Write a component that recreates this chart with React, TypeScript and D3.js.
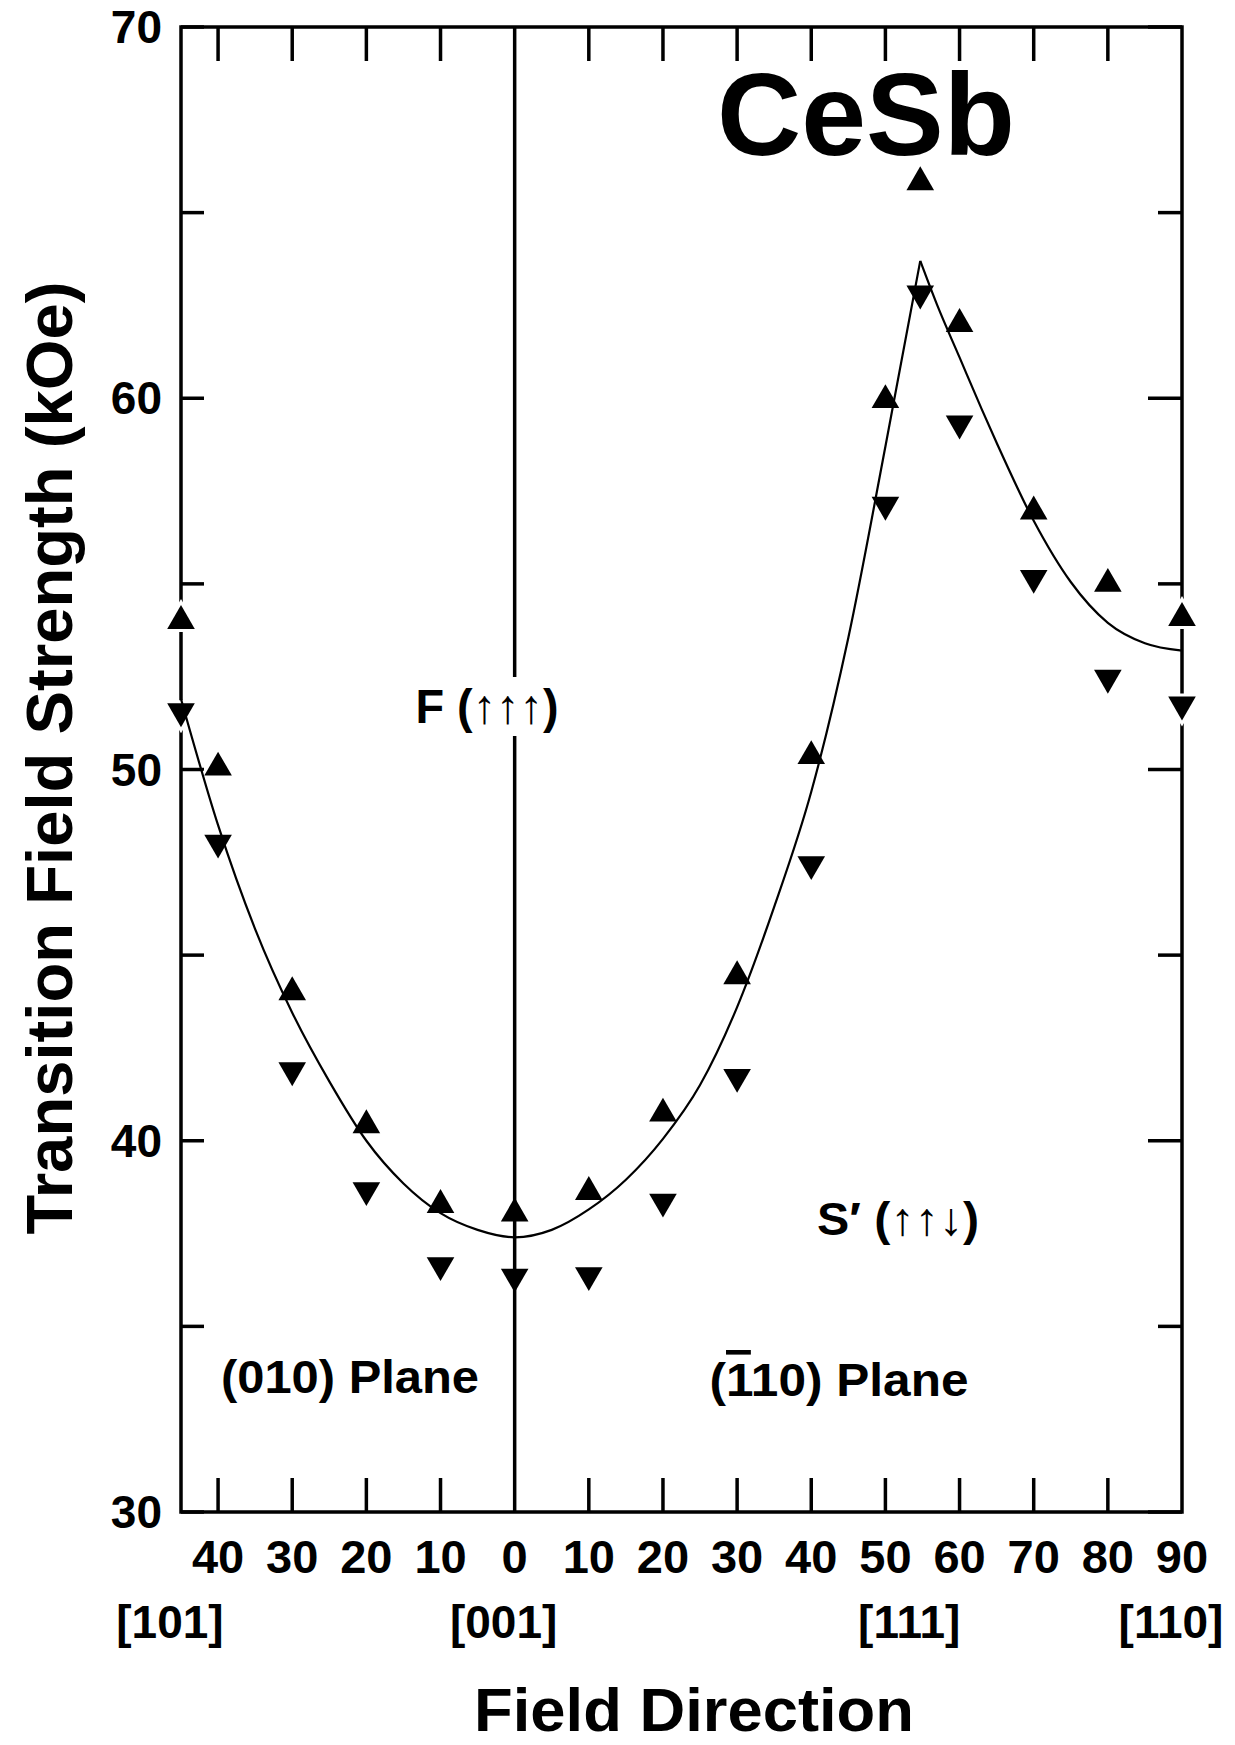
import React from 'react';
import * as d3 from 'd3';

// ---- data ----
const yTicksMajor = [30, 40, 50, 60, 70];
const yTicksMinor = [35, 45, 55, 65];
const xTickAngles = [-40, -30, -20, -10, 10, 20, 30, 40, 50, 60, 70, 80];
const xTickLabelAngles = [-40, -30, -20, -10, 0, 10, 20, 30, 40, 50, 60, 70, 80, 90];
const xTickLabels = ['40', '30', '20', '10', '0', '10', '20', '30', '40', '50', '60', '70', '80', '90'];
const directionAngles = [-45, 0, 54.7, 90];
const directionLabels = ['[101]', '[001]', '[111]', '[110]'];

const markerAngles = [-45, -40, -30, -20, -10, 0, 10, 20, 30, 40, 50, 54.7, 60, 70, 80, 90];
const upTriangleValues = [54.0, 50.05, 44.0, 40.42, 38.27, 38.04, 38.62, 40.73, 44.43, 50.36, 59.95, 65.82, 62.0, 56.95, 55.0, 54.08];
const downTriangleValues = [51.57, 48.03, 41.9, 38.67, 36.65, 36.34, 36.38, 38.36, 41.72, 47.45, 57.13, 62.82, 59.32, 55.16, 52.47, 51.75];

const fitLeftAngles = [-45, -40, -35, -30, -25, -20, -15, -10, -5, 0, 5, 10, 15, 20, 25, 30, 35, 40, 45, 50, 54.7];
const fitLeftValues = [51.9, 48.5, 45.7, 43.45, 41.6, 40.0, 38.85, 38.05, 37.6, 37.4, 37.6, 38.15, 38.95, 40.05, 41.5, 43.6, 46.3, 49.4, 53.55, 58.7, 63.7];
const fitRightAngles = [54.7, 57, 60, 63, 65, 70, 75, 80, 85, 90];
const fitRightValues = [63.7, 62.5, 61.1, 59.7, 58.8, 56.7, 55.05, 53.95, 53.4, 53.2];

const FONT = '"Liberation Sans", Arial, Helvetica, sans-serif';

export default function App() {
  const W = 1235;
  const H = 1745;
  const x = d3.scaleLinear().domain([-45, 90]).range([181, 1182]);
  const y = d3.scaleLinear().domain([30, 70]).range([1512, 27]);

  const left = x(-45);
  const right = x(90);
  const top = y(70);
  const bottom = y(30);

  const line = d3
    .line<[number, number]>()
    .x((d) => x(d[0]))
    .y((d) => y(d[1]))
    .curve(d3.curveMonotoneX);

  const leftPts: [number, number][] = fitLeftAngles.map((a, i) => [a, fitLeftValues[i]]);
  const rightPts: [number, number][] = fitRightAngles.map((a, i) => [a, fitRightValues[i]]);

  const tri = d3.symbol().type(d3.symbolTriangle).size(330)() as string;

  const stroke = 3.5;

  return (
    <svg
      width={W}
      height={H}
      viewBox={`0 0 ${W} ${H}`}
      style={{ position: 'absolute', left: 0, top: 0, background: '#fff' }}
      fontFamily={FONT}
      fontWeight="bold"
    >
      <rect x={0} y={0} width={W} height={H} fill="#fff" />

      {/* frame */}
      <rect x={left} y={top} width={right - left} height={bottom - top} fill="none" stroke="#000" strokeWidth={stroke} />

      {/* top and bottom ticks */}
      {xTickAngles.map((a) => (
        <g key={'xt' + a}>
          <line x1={x(a)} x2={x(a)} y1={top} y2={top + 34} stroke="#000" strokeWidth={stroke} />
          <line x1={x(a)} x2={x(a)} y1={bottom} y2={bottom - 34} stroke="#000" strokeWidth={stroke} />
        </g>
      ))}

      {/* left / right ticks */}
      {yTicksMajor.map((v) => (
        <g key={'ymj' + v}>
          <line x1={left} x2={left + 23} y1={y(v)} y2={y(v)} stroke="#000" strokeWidth={stroke} />
          <line x1={right} x2={right - 34} y1={y(v)} y2={y(v)} stroke="#000" strokeWidth={stroke} />
        </g>
      ))}
      {yTicksMinor.map((v) => (
        <g key={'ymn' + v}>
          <line x1={left} x2={left + 23} y1={y(v)} y2={y(v)} stroke="#000" strokeWidth={stroke} />
          <line x1={right} x2={right - 24} y1={y(v)} y2={y(v)} stroke="#000" strokeWidth={stroke} />
        </g>
      ))}

      {/* markers */}
      {markerAngles.map((a, i) => (
        <path
          key={'up' + i}
          d={tri}
          transform={`translate(${x(a)},${y(upTriangleValues[i])})`}
          fill="#000"
          stroke="#fff"
          strokeWidth={6}
          style={{ paintOrder: 'stroke' }}
        />
      ))}
      {markerAngles.map((a, i) => (
        <path
          key={'dn' + i}
          d={tri}
          transform={`translate(${x(a)},${y(downTriangleValues[i])}) rotate(180)`}
          fill="#000"
          stroke="#fff"
          strokeWidth={6}
          style={{ paintOrder: 'stroke' }}
        />
      ))}

      {/* [001] vertical line */}
      <line x1={x(0)} x2={x(0)} y1={top} y2={bottom} stroke="#000" strokeWidth={stroke} />

      {/* fitted curve */}
      <path d={line(leftPts) as string} fill="none" stroke="#000" strokeWidth={2.2} />
      <path d={line(rightPts) as string} fill="none" stroke="#000" strokeWidth={2.2} />

      {/* y tick labels */}
      {yTicksMajor.map((v) => (
        <text key={'yl' + v} x={left - 19} y={y(v) + 16} fontSize={46} textAnchor="end">
          {v}
        </text>
      ))}

      {/* x tick labels */}
      {xTickLabelAngles.map((a, i) => (
        <text key={'xl' + i} x={x(a)} y={1573} fontSize={47} textAnchor="middle">
          {xTickLabels[i]}
        </text>
      ))}

      {/* direction labels */}
      {directionAngles.map((a, i) => (
        <text key={'dl' + i} x={x(a) - 11} y={1638} fontSize={46} textAnchor="middle">
          {directionLabels[i]}
        </text>
      ))}

      {/* axis titles */}
      <text x={694} y={1731} fontSize={61} textAnchor="middle" textLength={440} lengthAdjust="spacingAndGlyphs">
        Field Direction
      </text>
      <text
        transform="translate(72,758) rotate(-90)"
        fontSize={65}
        textAnchor="middle"
        textLength={953}
        lengthAdjust="spacingAndGlyphs"
      >
        Transition Field Strength (kOe)
      </text>

      {/* title */}
      <text x={866} y={155} fontSize={117} textAnchor="middle" textLength={298} lengthAdjust="spacingAndGlyphs">
        CeSb
      </text>

      {/* annotations */}
      <rect x={408} y={677} width={156} height={59} fill="#fff" />
      <text x={487} y={723} fontSize={48} textAnchor="middle" textLength={143} lengthAdjust="spacingAndGlyphs">
        F (↑↑↑)
      </text>
      <text x={898} y={1235} fontSize={46} textAnchor="middle" textLength={162} lengthAdjust="spacingAndGlyphs">
        S′ (↑↑↓)
      </text>
      <text x={350} y={1393} fontSize={46} textAnchor="middle" textLength={258} lengthAdjust="spacingAndGlyphs">
        (010) Plane
      </text>
      <text x={839} y={1396} fontSize={46} textAnchor="middle" textLength={259} lengthAdjust="spacingAndGlyphs">
        (<tspan style={{ textDecoration: 'overline' }}>1</tspan>10) Plane
      </text>
    </svg>
  );
}
